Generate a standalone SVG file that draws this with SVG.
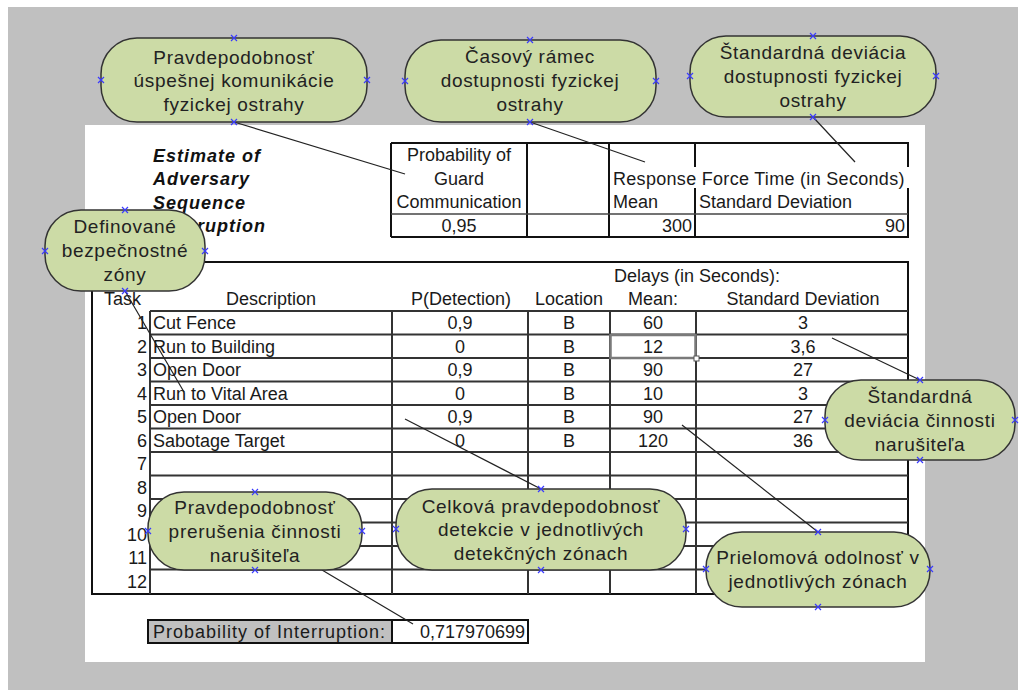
<svg xmlns="http://www.w3.org/2000/svg" width="1024" height="697" viewBox="0 0 1024 697">
  <style>
    .t { font-family: "Liberation Sans", Arial, sans-serif; font-size: 18px; fill: #1a1a1a; }
    .m { text-anchor: middle; }
    .r { text-anchor: end; }
    .title { font-family: "Liberation Sans", Arial, sans-serif; font-size: 18px; font-weight: bold; font-style: italic; letter-spacing: 1px; fill: #111; }
    .box { fill: none; stroke: #111; stroke-width: 2; }
    .grid { stroke: #333; stroke-width: 2; fill: none; }
    .bubble { fill: #ccdba6; stroke: #333; stroke-width: 1.5; }
    .bt { font-family: "Liberation Sans", Arial, sans-serif; font-size: 19px; letter-spacing: 0.7px; fill: #222; text-anchor: middle; }
    .conn { stroke: #222; stroke-width: 1.2; fill: none; }
    .cp { stroke: #3a3aff; stroke-width: 1.2; fill: none; }
  </style>
  <defs>
    <path id="cpx" d="M-3,-3L3,3M-3,3L3,-3"/>
  </defs>

  <!-- page background -->
  <rect x="0" y="0" width="1024" height="697" fill="#ffffff"/>
  <rect x="8" y="7" width="1010" height="683" fill="#c0c0c0"/>
  <rect x="85" y="125" width="840" height="537" fill="#ffffff"/>

  <!-- heading -->
  <g id="heading">
    <text class="title" x="153" y="162">Estimate of</text>
    <text class="title" x="153" y="185">Adversary</text>
    <text class="title" x="153" y="209">Sequence</text>
    <text class="title" x="153" y="232">Interruption</text>
  </g>

  <!-- response force table -->
  <g id="response-table">
    <line class="box" x1="391" y1="143" x2="909" y2="143"/>
    <line class="box" x1="391" y1="237" x2="909" y2="237"/>
    <line class="box" x1="391" y1="143" x2="391" y2="237"/>
    <line class="box" x1="527" y1="143" x2="527" y2="237"/>
    <line class="box" x1="609" y1="143" x2="609" y2="237"/>
    <line class="box" x1="695" y1="143" x2="695" y2="167"/>
    <line class="box" x1="695" y1="188" x2="695" y2="237"/>
    <line class="box" x1="908" y1="143" x2="908" y2="167"/>
    <line class="box" x1="908" y1="188" x2="908" y2="237"/>
    <line stroke="#444" stroke-width="1.5" x1="391" y1="214" x2="908" y2="214"/>
    <text class="t m" x="459" y="161">Probability of</text>
    <text class="t m" x="459" y="185">Guard</text>
    <text class="t m" x="459" y="208">Communication</text>
    <text class="t m" x="459" y="232">0,95</text>
    <text class="t" x="613" y="185" letter-spacing="0.3">Response Force Time (in Seconds)</text>
    <text class="t" x="613" y="208">Mean</text>
    <text class="t" x="699" y="208">Standard Deviation</text>
    <text class="t r" x="692" y="232">300</text>
    <text class="t r" x="905" y="232">90</text>
  </g>

  <!-- task table -->
  <g id="task-table">
    <rect class="box" x="92" y="262" width="816" height="332"/>
    <text class="t" x="614" y="282">Delays (in Seconds):</text>
    <text class="t" x="104" y="305">Task</text>
    <text class="t m" x="271" y="305">Description</text>
    <text class="t m" x="461" y="305">P(Detection)</text>
    <text class="t m" x="569" y="305">Location</text>
    <text class="t m" x="653" y="305">Mean:</text>
    <text class="t m" x="803" y="305">Standard Deviation</text>
    <g class="grid">
      <line x1="150" y1="311" x2="908" y2="311"/>
      <line x1="150" y1="334.5" x2="908" y2="334.5"/>
      <line x1="150" y1="358" x2="908" y2="358"/>
      <line x1="150" y1="381.5" x2="908" y2="381.5"/>
      <line x1="150" y1="405" x2="908" y2="405"/>
      <line x1="150" y1="428.5" x2="908" y2="428.5"/>
      <line x1="150" y1="452" x2="908" y2="452"/>
      <line x1="150" y1="475.5" x2="908" y2="475.5"/>
      <line x1="150" y1="499" x2="908" y2="499"/>
      <line x1="150" y1="522.5" x2="908" y2="522.5"/>
      <line x1="150" y1="546" x2="908" y2="546"/>
      <line x1="150" y1="569.5" x2="908" y2="569.5"/>
      <line x1="150" y1="311" x2="150" y2="594"/>
      <line x1="392" y1="311" x2="392" y2="594"/>
      <line x1="528" y1="311" x2="528" y2="594"/>
      <line x1="610" y1="311" x2="610" y2="594"/>
      <line x1="696" y1="311" x2="696" y2="594"/>
    </g>
    <!-- task numbers -->
    <g class="t r">
      <text x="147" y="329">1</text>
      <text x="147" y="352.5">2</text>
      <text x="147" y="376">3</text>
      <text x="147" y="399.5">4</text>
      <text x="147" y="423">5</text>
      <text x="147" y="446.5">6</text>
      <text x="147" y="470">7</text>
      <text x="147" y="493.5">8</text>
      <text x="147" y="517">9</text>
      <text x="147" y="540.5">10</text>
      <text x="147" y="564">11</text>
      <text x="147" y="587.5">12</text>
    </g>
    <!-- descriptions -->
    <g class="t">
      <text x="153" y="329">Cut Fence</text>
      <text x="153" y="352.5">Run to Building</text>
      <text x="153" y="376">Open Door</text>
      <text x="153" y="399.5">Run to Vital Area</text>
      <text x="153" y="423">Open Door</text>
      <text x="153" y="446.5">Sabotage Target</text>
    </g>
    <!-- detection probabilities -->
    <g class="t m">
      <text x="460" y="329">0,9</text>
      <text x="460" y="352.5">0</text>
      <text x="460" y="376">0,9</text>
      <text x="460" y="399.5">0</text>
      <text x="460" y="423">0,9</text>
      <text x="460" y="446.5">0</text>
    </g>
    <!-- locations -->
    <g class="t m">
      <text x="569" y="329">B</text>
      <text x="569" y="352.5">B</text>
      <text x="569" y="376">B</text>
      <text x="569" y="399.5">B</text>
      <text x="569" y="423">B</text>
      <text x="569" y="446.5">B</text>
    </g>
    <!-- mean delays -->
    <g class="t m">
      <text x="653" y="329">60</text>
      <text x="653" y="352.5">12</text>
      <text x="653" y="376">90</text>
      <text x="653" y="399.5">10</text>
      <text x="653" y="423">90</text>
      <text x="653" y="446.5">120</text>
    </g>
    <!-- standard deviations -->
    <g class="t m">
      <text x="803" y="329">3</text>
      <text x="803" y="352.5">3,6</text>
      <text x="803" y="376">27</text>
      <text x="803" y="399.5">3</text>
      <text x="803" y="423">27</text>
      <text x="803" y="446.5">36</text>
    </g>
    <!-- active cell -->
    <rect x="610.5" y="335" width="85" height="23" fill="none" stroke="#7a7a7a" stroke-width="2.5"/>
    <rect x="694" y="356" width="5" height="5" fill="#fff" stroke="#555" stroke-width="1"/>
  </g>

  <!-- interruption result -->
  <g id="result">
    <rect x="148" y="620" width="244" height="23" fill="#c0c0c0"/>
    <rect class="box" x="148" y="620" width="380" height="23"/>
    <line class="box" x1="392" y1="620" x2="392" y2="643"/>
    <text class="t" x="153" y="638" letter-spacing="1">Probability of Interruption:</text>
    <text class="t r" x="525" y="638">0,717970699</text>
  </g>

  <!-- connectors -->
  <g id="connectors" class="conn">
    <line x1="234" y1="122" x2="405" y2="174"/>
    <line x1="530" y1="122" x2="645" y2="162"/>
    <line x1="813" y1="117" x2="855" y2="162"/>
    <line x1="125" y1="291" x2="184" y2="392"/>
    <line x1="920" y1="380" x2="832" y2="338"/>
    <line x1="541" y1="489" x2="405" y2="419"/>
    <line x1="818" y1="532" x2="682" y2="425"/>
    <line x1="322" y1="570" x2="413" y2="624"/>
  </g>

  <!-- callouts -->
  <g id="guard-communication">
    <rect class="bubble" x="101" y="38" width="266" height="84" rx="36"/>
    <text class="bt" x="234" y="64">Pravdepodobnosť</text>
    <text class="bt" x="234" y="87">úspešnej komunikácie</text>
    <text class="bt" x="234" y="111">fyzickej ostrahy</text>
  </g>
  <g id="response-time">
    <rect class="bubble" x="405" y="40" width="251" height="82" rx="36"/>
    <text class="bt" x="530" y="63">Časový rámec</text>
    <text class="bt" x="530" y="87">dostupnosti fyzickej</text>
    <text class="bt" x="530" y="111">ostrahy</text>
  </g>
  <g id="response-deviation">
    <rect class="bubble" x="690" y="36" width="246" height="81" rx="36"/>
    <text class="bt" x="813" y="59">Štandardná deviácia</text>
    <text class="bt" x="813" y="83">dostupnosti fyzickej</text>
    <text class="bt" x="813" y="107">ostrahy</text>
  </g>
  <g id="zones">
    <rect class="bubble" x="45" y="210" width="160" height="81" rx="36"/>
    <text class="bt" x="125" y="233">Definované</text>
    <text class="bt" x="125" y="257">bezpečnostné</text>
    <text class="bt" x="125" y="281">zóny</text>
  </g>
  <g id="adversary-deviation">
    <rect class="bubble" x="825" y="380" width="190" height="80" rx="36"/>
    <text class="bt" x="920" y="403">Štandardná</text>
    <text class="bt" x="920" y="427">deviácia činnosti</text>
    <text class="bt" x="920" y="451">narušiteľa</text>
  </g>
  <g id="interruption">
    <rect class="bubble" x="148" y="492" width="214" height="78" rx="36"/>
    <text class="bt" x="255" y="514">Pravdepodobnosť</text>
    <text class="bt" x="255" y="538">prerušenia činnosti</text>
    <text class="bt" x="255" y="562">narušiteľa</text>
  </g>
  <g id="detection">
    <rect class="bubble" x="396" y="489" width="290" height="81" rx="36"/>
    <text class="bt" x="541" y="513">Celková pravdepodobnosť</text>
    <text class="bt" x="541" y="536">detekcie v jednotlivých</text>
    <text class="bt" x="541" y="560">detekčných zónach</text>
  </g>
  <g id="delay">
    <rect class="bubble" x="706" y="532" width="224" height="75" rx="36"/>
    <text class="bt" x="818" y="564">Prielomová odolnosť v</text>
    <text class="bt" x="818" y="588">jednotlivých zónach</text>
  </g>

  <!-- connection points -->
  <g id="connection-points" class="cp">
    <use href="#cpx" x="234" y="38"/><use href="#cpx" x="101" y="80"/><use href="#cpx" x="367" y="80"/><use href="#cpx" x="234" y="122"/>
    <use href="#cpx" x="530" y="40"/><use href="#cpx" x="405" y="81"/><use href="#cpx" x="656" y="81"/><use href="#cpx" x="530" y="122"/>
    <use href="#cpx" x="813" y="36"/><use href="#cpx" x="690" y="76"/><use href="#cpx" x="936" y="76"/><use href="#cpx" x="813" y="117"/>
    <use href="#cpx" x="125" y="210"/><use href="#cpx" x="45" y="251"/><use href="#cpx" x="205" y="251"/><use href="#cpx" x="125" y="291"/>
    <use href="#cpx" x="920" y="380"/><use href="#cpx" x="825" y="420"/><use href="#cpx" x="1015" y="420"/><use href="#cpx" x="920" y="460"/>
    <use href="#cpx" x="255" y="492"/><use href="#cpx" x="148" y="531"/><use href="#cpx" x="362" y="531"/><use href="#cpx" x="255" y="570"/>
    <use href="#cpx" x="541" y="489"/><use href="#cpx" x="396" y="529"/><use href="#cpx" x="686" y="529"/><use href="#cpx" x="541" y="570"/>
    <use href="#cpx" x="818" y="532"/><use href="#cpx" x="706" y="569"/><use href="#cpx" x="930" y="569"/><use href="#cpx" x="818" y="607"/>
  </g>
</svg>
